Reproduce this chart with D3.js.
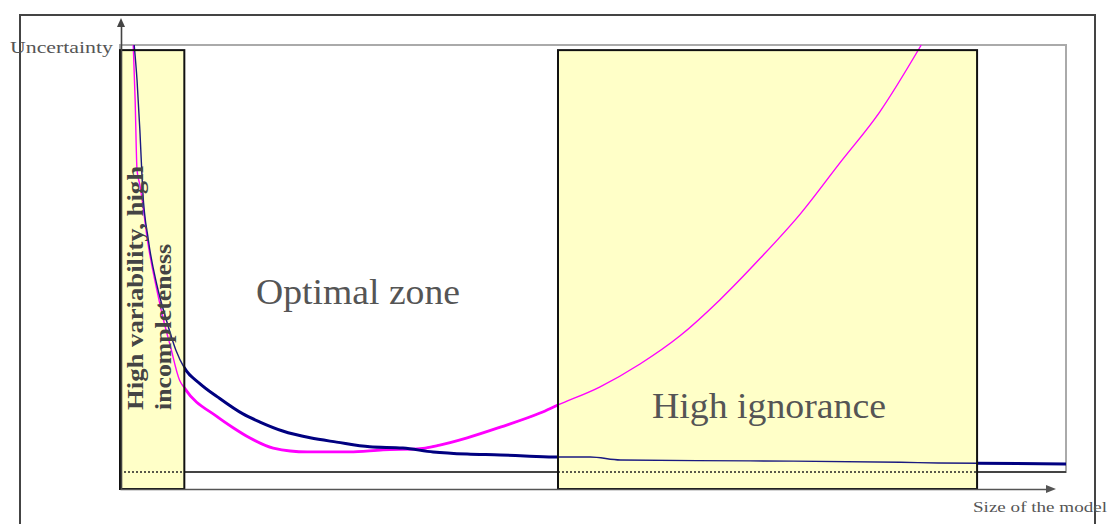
<!DOCTYPE html>
<html lang='en'>
<head>
   <meta charset='UTF-8'>
   <title>Uncertainty vs size of the model</title>
   <script src='https://d3js.org/d3.v7.min.js'></script>
   <style>
      body { margin: 0; background: #fff; }
      svg { display: block; }
      text { font-family: 'Liberation Serif', 'Times New Roman', serif; }
   </style>
</head>
<body>
   <div id='svg-container'></div>
   <script>
      // model size (0..100) and uncertainty (0..100)
      const sizeBlue = [1.5, 1.8, 2.1, 2.4, 3.0, 3.9, 4.9, 5.9, 6.8, 8.5, 10.3, 13.0, 14.8, 17.2, 20.1, 22.9, 26.4, 29.9, 33.1, 36.7, 40.2, 43.3, 46.3, 49.7, 52.9, 66.6, 82.5, 86.5, 100];
      const uncBlue = [100, 91.8, 80.1, 66.0, 54.3, 43.8, 35.6, 28.6, 24.4, 20.6, 17.6, 13.6, 11.7, 9.6, 8.0, 7.0, 5.9, 5.6, 4.7, 4.2, 4.0, 3.7, 3.5, 3.5, 2.8, 2.6, 2.3, 2.1, 1.9];

      const sizePink = [1.4, 1.6, 1.8, 2.1, 2.3, 2.9, 3.9, 4.6, 5.3, 6.3, 6.8, 10.3, 12.0, 13.7, 16.2, 19.8, 24.3, 27.8, 31.4, 33.8, 36.7, 40.2, 44.4, 46.3, 50.7, 54.97, 59.2, 63.4, 67.7, 71.9, 76.1, 80.3, 84.7];
      const uncPink = [100, 87.1, 70.7, 67.2, 64.4, 54.3, 42.6, 35.6, 29.7, 21.5, 19.7, 12.9, 10.3, 8.0, 5.6, 4.7, 4.7, 5.2, 5.4, 6.3, 8.0, 10.5, 13.8, 15.7, 19.9, 25.3, 31.9, 40.3, 50.1, 60.4, 72.4, 84.3, 100];

      // shaded zones: start, end (model size), top (uncertainty)
      const zoneStart = [0, 46.3];
      const zoneEnd = [6.8, 90.6];
      const zoneTop = 98.8;
      const baseLevel = 0;

      const W = 1111, H = 524;
      const svg = d3.select('#svg-container').append('svg').attr('width', W).attr('height', H);

      const x = d3.scaleLinear().domain([0, 100]).range([120, 1066]);
      const y = d3.scaleLinear().domain([0, 100]).range([472, 45]);
      const axisBottomVal = y.invert(489);

      // outer frame
      svg.append('rect')
         .attr('x', 20).attr('y', 15).attr('width', 1075).attr('height', 560)
         .attr('fill', 'none').attr('stroke', '#444').attr('stroke-width', 2);

      // plot area frame
      svg.append('rect')
         .attr('x', x(0)).attr('y', y(100))
         .attr('width', x(100) - x(0)).attr('height', y(0) - y(100))
         .attr('fill', 'none').attr('stroke', '#aaa').attr('stroke-width', 2);

      // baseline (solid under the zones)
      svg.append('line')
         .attr('x1', x(0)).attr('x2', x(100))
         .attr('y1', y(baseLevel)).attr('y2', y(baseLevel))
         .attr('stroke', '#222').attr('stroke-width', 1.6);

      const zones = d3.range(zoneStart.length).map(i => ({ s: zoneStart[i], e: zoneEnd[i] }));

      svg.selectAll('.zone').data(zones).join('rect')
         .attr('class', 'zone')
         .attr('x', d => x(d.s)).attr('y', y(zoneTop))
         .attr('width', d => x(d.e) - x(d.s)).attr('height', y(axisBottomVal) - y(zoneTop))
         .attr('fill', '#ffffc8');

      // dotted baseline inside zones
      svg.selectAll('.dotline').data(zones).join('line')
         .attr('class', 'dotline')
         .attr('x1', d => x(d.s)).attr('x2', d => x(d.e))
         .attr('y1', y(baseLevel)).attr('y2', y(baseLevel))
         .attr('stroke', '#222').attr('stroke-width', 1.6)
         .attr('stroke-dasharray', '2,2');

      // clip for the thick part of the curves (outside the zones)
      const defs = svg.append('defs');
      const clip = defs.append('clipPath').attr('id', 'outside');
      const gaps = [[zoneEnd[0], zoneStart[1]], [zoneEnd[1], 100]];
      gaps.forEach(g => clip.append('rect')
         .attr('x', x(g[0])).attr('y', 0)
         .attr('width', x(g[1]) - x(g[0])).attr('height', H));

      const line = d3.line()
         .x(d => x(d[0])).y(d => y(d[1]))
         .curve(d3.curveMonotoneX);

      const blue = d3.zip(sizeBlue, uncBlue);
      const pink = d3.zip(sizePink, uncPink);

      // thin curves seen through the zones
      svg.append('path').datum(pink).attr('d', line)
         .attr('fill', 'none').attr('stroke', '#ff00ff').attr('stroke-width', 1.4);
      svg.append('path').datum(blue).attr('d', line)
         .attr('fill', 'none').attr('stroke', '#1a1a80').attr('stroke-width', 1.4);

      // thick curves outside the zones
      const thick = svg.append('g').attr('clip-path', 'url(#outside)');
      thick.append('path').datum(pink).attr('d', line)
         .attr('fill', 'none').attr('stroke', '#ff00ff').attr('stroke-width', 2.8);
      thick.append('path').datum(blue).attr('d', line)
         .attr('fill', 'none').attr('stroke', '#000080').attr('stroke-width', 3);

      // zone borders
      svg.selectAll('.zoneBorder').data(zones).join('rect')
         .attr('class', 'zoneBorder')
         .attr('x', d => x(d.s)).attr('y', y(zoneTop))
         .attr('width', d => x(d.e) - x(d.s)).attr('height', y(axisBottomVal) - y(zoneTop))
         .attr('fill', 'none').attr('stroke', '#111').attr('stroke-width', 2);

      // axes
      const yAxisScale = d3.scaleLinear().domain([axisBottomVal, y.invert(24)]).range([489, 24]);
      const xAxisScale = d3.scaleLinear().domain([0, x.invert(1050)]).range([120, 1050]);
      svg.append('g').attr('transform', 'translate(121,0)')
         .call(d3.axisLeft(yAxisScale).tickValues([]).tickSizeOuter(0))
         .call(g => g.select('.domain').attr('stroke', '#444').attr('stroke-width', 1.6));
      svg.append('g').attr('transform', 'translate(0,489)')
         .call(d3.axisBottom(xAxisScale).tickValues([]).tickSizeOuter(0))
         .call(g => g.select('.domain').attr('stroke', '#555').attr('stroke-width', 1.6));

      // arrow heads
      svg.append('path')
         .attr('d', `M121,18 L117,27 L125,27 Z`)
         .attr('fill', '#444');
      svg.append('path')
         .attr('d', `M1056,489 L1046,485 L1046,493 Z`)
         .attr('fill', '#555');

      // texts
      svg.append('text').attr('x', 10).attr('y', 53)
         .attr('font-size', 16).attr('fill', '#555')
         .attr('textLength', 103).attr('lengthAdjust', 'spacingAndGlyphs')
         .text('Uncertainty');
      svg.append('text').attr('x', 973).attr('y', 512)
         .attr('font-size', 15).attr('fill', '#555')
         .attr('textLength', 134).attr('lengthAdjust', 'spacingAndGlyphs')
         .text('Size of the model');
      svg.append('text').attr('x', 256).attr('y', 304)
         .attr('font-size', 35).attr('fill', '#555')
         .attr('textLength', 204).attr('lengthAdjust', 'spacingAndGlyphs')
         .text('Optimal zone');
      svg.append('text').attr('x', 652).attr('y', 418)
         .attr('font-size', 35).attr('fill', '#555')
         .attr('textLength', 234).attr('lengthAdjust', 'spacingAndGlyphs')
         .text('High ignorance');
      svg.append('text').attr('transform', 'translate(143,410) rotate(-90)')
         .attr('font-size', 24).attr('font-weight', 'bold').attr('fill', '#444')
         .attr('textLength', 244).attr('lengthAdjust', 'spacingAndGlyphs')
         .text('High variability, high');
      svg.append('text').attr('transform', 'translate(171,410) rotate(-90)')
         .attr('font-size', 24).attr('font-weight', 'bold').attr('fill', '#444')
         .attr('textLength', 166).attr('lengthAdjust', 'spacingAndGlyphs')
         .text('incompleteness');
   </script>
</body>
</html>
